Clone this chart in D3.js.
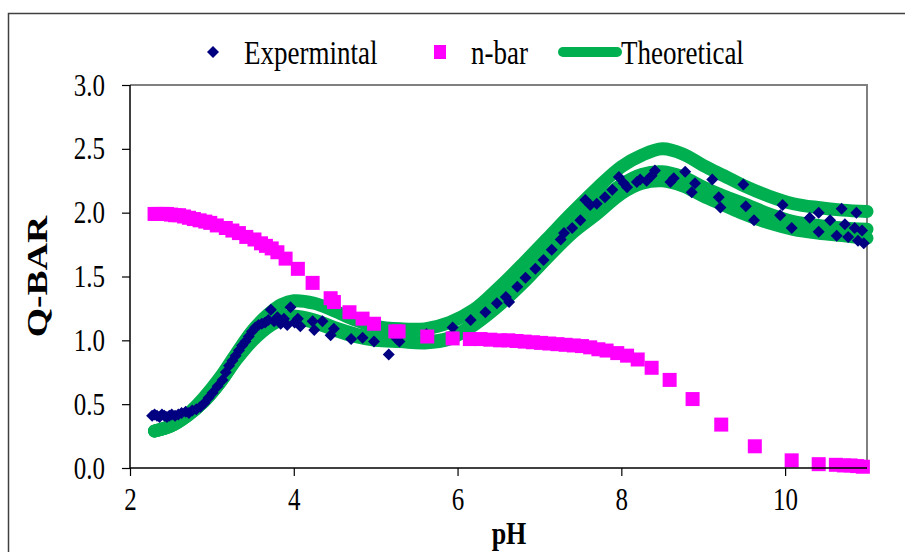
<!DOCTYPE html>
<html>
<head>
<meta charset="utf-8">
<script src="https://cdn.jsdelivr.net/npm/d3@7"></script>
<style>
  html, body { margin: 0; padding: 0; background: #fff; }
  svg text { font-family: "Liberation Serif", "Times New Roman", serif; fill: #000; }
  .tall { transform-box: fill-box; transform-origin: center; transform: scaleY(1.25); }
  .long { transform-box: fill-box; transform-origin: center; transform: scaleX(1.3); }
</style>
</head>
<body>
<svg id="chart" width="905" height="552"></svg>
<script>
// Experimental Q-bar points (pH, Q)
const expPH = [2.27,2.30,2.33,2.36,2.39,2.42,2.45,2.48,2.51,2.55,2.59,2.63,2.68,2.72,2.76,2.81,2.86,2.91,2.96,3.01,
  3.07,3.13,3.17,3.21,3.25,3.29,3.33,3.37,3.41,3.45,3.49,3.53,3.57,3.61,3.65,3.69,3.72,3.76,3.80,3.84,
  3.88,3.92,3.96,4.01,4.05,4.08,4.23,4.25,4.35,4.45,4.49,4.70,4.84,4.98,5.16,5.26,5.29,5.62,5.94,6.16,
  6.34,6.48,6.59,6.63,6.73,6.83,6.95,7.05,7.15,7.26,7.30,7.40,7.50,7.56,7.62,7.70,7.80,7.89,7.97,8.03,
  8.07,8.19,8.23,8.31,8.37,8.41,8.60,8.64,8.78,8.86,8.90,9.11,9.19,9.21,9.49,9.52,9.62,9.94,9.97,10.08,
  10.30,10.41,10.41,10.55,10.63,10.69,10.73,10.77,10.85,10.87,10.89,10.94,10.96];
const expQ = [0.41,0.42,0.41,0.40,0.42,0.41,0.40,0.41,0.42,0.41,0.42,0.43,0.44,0.43,0.45,0.46,0.48,0.51,0.55,0.59,
  0.64,0.69,0.75,0.80,0.84,0.88,0.92,0.96,0.99,1.03,1.07,1.10,1.12,1.13,1.14,1.16,1.24,1.15,1.18,1.13,
  1.17,1.12,1.26,1.14,1.17,1.11,1.15,1.08,1.15,1.04,1.09,1.01,1.02,0.99,0.89,1.01,0.99,1.05,1.10,1.16,
  1.22,1.29,1.34,1.30,1.42,1.49,1.56,1.63,1.71,1.79,1.84,1.88,1.94,2.10,2.06,2.07,2.12,2.18,2.28,2.23,
  2.20,2.24,2.26,2.25,2.29,2.33,2.24,2.27,2.32,2.16,2.23,2.26,2.12,2.04,2.22,2.05,1.94,1.98,2.06,1.88,
  1.96,2.00,1.85,1.94,1.82,2.03,1.91,1.81,1.88,2.00,1.78,1.86,1.76];

// n-bar points (pH, n)
const nbarPH = [2.30,2.35,2.40,2.45,2.50,2.55,2.60,2.66,2.72,2.78,2.85,2.92,2.98,3.06,3.17,3.25,3.33,3.42,3.52,3.60,
  3.66,3.73,3.80,3.90,4.05,4.23,4.45,4.49,4.68,4.84,4.98,5.24,5.28,5.63,5.94,6.15,6.28,6.40,6.52,6.62,
  6.72,6.82,6.92,7.02,7.12,7.22,7.32,7.42,7.52,7.62,7.72,7.82,7.95,8.07,8.20,8.37,8.59,8.87,9.22,9.63,
  10.08,10.41,10.62,10.72,10.80,10.88,10.95];
const nbarN = [1.99,1.99,1.99,1.99,1.985,1.98,1.98,1.97,1.96,1.95,1.94,1.93,1.92,1.90,1.88,1.86,1.84,1.81,1.79,1.76,
  1.74,1.72,1.69,1.64,1.56,1.45,1.33,1.30,1.22,1.17,1.13,1.07,1.07,1.03,1.015,1.01,1.01,1.005,1.00,1.00,
  0.995,0.99,0.985,0.98,0.975,0.97,0.965,0.96,0.955,0.945,0.93,0.92,0.90,0.88,0.85,0.785,0.69,0.54,0.34,0.17,
  0.06,0.03,0.025,0.02,0.02,0.015,0.01];

// Theoretical curves on a common pH grid
const theoPH = [2.3,2.5,2.7,2.9,3.1,3.3,3.5,3.7,3.85,4.0,4.25,4.5,4.75,5.0,5.3,5.6,5.9,6.2,6.5,6.8,
  7.1,7.4,7.7,8.0,8.25,8.5,8.75,9.0,9.25,9.5,9.8,10.1,10.4,10.7,11.0];
const theoUpper = [0.29,0.33,0.42,0.55,0.71,0.90,1.08,1.21,1.28,1.31,1.29,1.23,1.16,1.11,1.09,1.09,1.14,1.24,1.41,1.60,
  1.80,2.00,2.19,2.36,2.45,2.50,2.46,2.37,2.29,2.21,2.13,2.07,2.04,2.02,2.01];
const theoMiddle = [0.29,0.33,0.41,0.52,0.67,0.86,1.01,1.13,1.18,1.19,1.16,1.10,1.05,1.01,1.00,0.99,1.02,1.13,1.28,1.46,
  1.66,1.89,2.06,2.22,2.30,2.32,2.28,2.20,2.13,2.07,1.99,1.93,1.90,1.88,1.87];
const theoLower = [0.29,0.33,0.41,0.52,0.67,0.85,1.00,1.11,1.16,1.17,1.14,1.08,1.03,1.00,0.99,0.98,1.01,1.12,1.27,1.45,
  1.65,1.84,1.99,2.15,2.23,2.25,2.21,2.13,2.06,1.99,1.92,1.87,1.84,1.82,1.80];

const xTicks = [2,4,6,8,10];
const yTicks = [0,0.5,1.0,1.5,2.0,2.5,3.0];

const TICK_FONT = 25;
const LEGEND_FONT = 27;
const TITLE_FONT = 28;
const svg = d3.select("#chart");

// outer chart frame
svg.append("rect").attr("x",8.5).attr("y",13.5).attr("width",1000).attr("height",1000)
  .attr("fill","none").attr("stroke","#404040").attr("stroke-width",1.5);

const x = d3.scaleLinear().domain([2,11]).range([130,867]);
const y = d3.scaleLinear().domain([0,3]).range([468,85]);

// plot area frame (top/right in gray)
svg.append("path")
  .attr("d",`M${x(2)},${y(3)}H${x(11)}V${y(0)}`)
  .attr("fill","none").attr("stroke","#808080").attr("stroke-width",2);

const plot = svg.append("g");
const zip = (a,b) => a.map((v,i)=>[v,b[i]]);

// theoretical bands
const line = d3.line().x(d=>x(d[0])).y(d=>y(d[1])).curve(d3.curveCatmullRom.alpha(0.5));
[theoLower, theoMiddle, theoUpper].forEach(s => {
  plot.append("path").datum(zip(theoPH,s)).attr("d",line)
    .attr("fill","none").attr("stroke","#00B050").attr("stroke-width",13)
    .attr("stroke-linecap","round").attr("stroke-linejoin","round");
});

// experimental diamonds
const diamond = d3.symbol().type(d3.symbolSquare).size(72);
plot.selectAll(".exp").data(zip(expPH,expQ)).join("path").attr("class","exp")
  .attr("d",diamond)
  .attr("transform",d=>`translate(${x(d[0])},${y(d[1])}) rotate(45)`)
  .attr("fill","#000080");

// n-bar squares
const sq = 14;
plot.selectAll(".nb").data(zip(nbarPH,nbarN)).join("rect").attr("class","nb")
  .attr("x",d=>x(d[0])-sq/2).attr("y",d=>y(d[1])-sq/2)
  .attr("width",sq).attr("height",sq).attr("fill","#FF00FF");

// axes
const yAxis = svg.append("g").attr("transform",`translate(${x(2)},0)`)
  .call(d3.axisLeft(y).tickValues(yTicks).tickFormat(d3.format(".1f")).tickSize(8).tickPadding(17));
const xAxis = svg.append("g").attr("transform",`translate(0,${y(0)})`)
  .call(d3.axisBottom(x).tickValues(xTicks).tickFormat(d3.format("d")).tickSize(8).tickPadding(14));
[yAxis,xAxis].forEach(a=>{
  a.select(".domain").attr("stroke","#000").attr("stroke-width",1.5);
  a.selectAll(".tick line").attr("stroke","#000").attr("stroke-width",1.2);
  a.selectAll("text").attr("font-size",TICK_FONT).attr("font-family","Liberation Serif").attr("class","tall");
});
xAxis.selectAll(".domain").attr("d",`M${x(2)},0H${x(11)}`);
yAxis.selectAll(".domain").attr("d",`M0,${y(0)}V${y(3)}`);

// axis titles
svg.append("text").attr("x",509).attr("y",542).attr("text-anchor","middle")
  .attr("font-size",26).attr("font-weight","bold").attr("class","tall").text("pH");
svg.append("g").attr("transform",`translate(47,${(y(0)+y(3))/2}) rotate(-90)`)
  .append("text").attr("text-anchor","middle").attr("class","long")
  .attr("font-size",29).attr("font-weight","bold").text("Q-BAR");

// legend
const ly = 52;
const lg = svg.append("g");
lg.append("path").attr("d",d3.symbol().type(d3.symbolSquare).size(72))
  .attr("transform",`translate(213,${ly}) rotate(45)`).attr("fill","#000080");
lg.append("text").attr("x",244).attr("y",ly).attr("dy","0.35em").attr("font-size",LEGEND_FONT).attr("class","tall").text("Expermintal");
lg.append("rect").attr("x",434).attr("y",ly-7).attr("width",12).attr("height",14).attr("fill","#FF00FF");
lg.append("text").attr("x",471).attr("y",ly).attr("dy","0.35em").attr("font-size",LEGEND_FONT).attr("class","tall").text("n-bar");
lg.append("line").attr("x1",563).attr("x2",617).attr("y1",ly).attr("y2",ly)
  .attr("stroke","#00B050").attr("stroke-width",10).attr("stroke-linecap","round");
lg.append("text").attr("x",621).attr("y",ly).attr("dy","0.35em").attr("font-size",LEGEND_FONT).attr("class","tall").text("Theoretical");
</script>
</body>
</html>
